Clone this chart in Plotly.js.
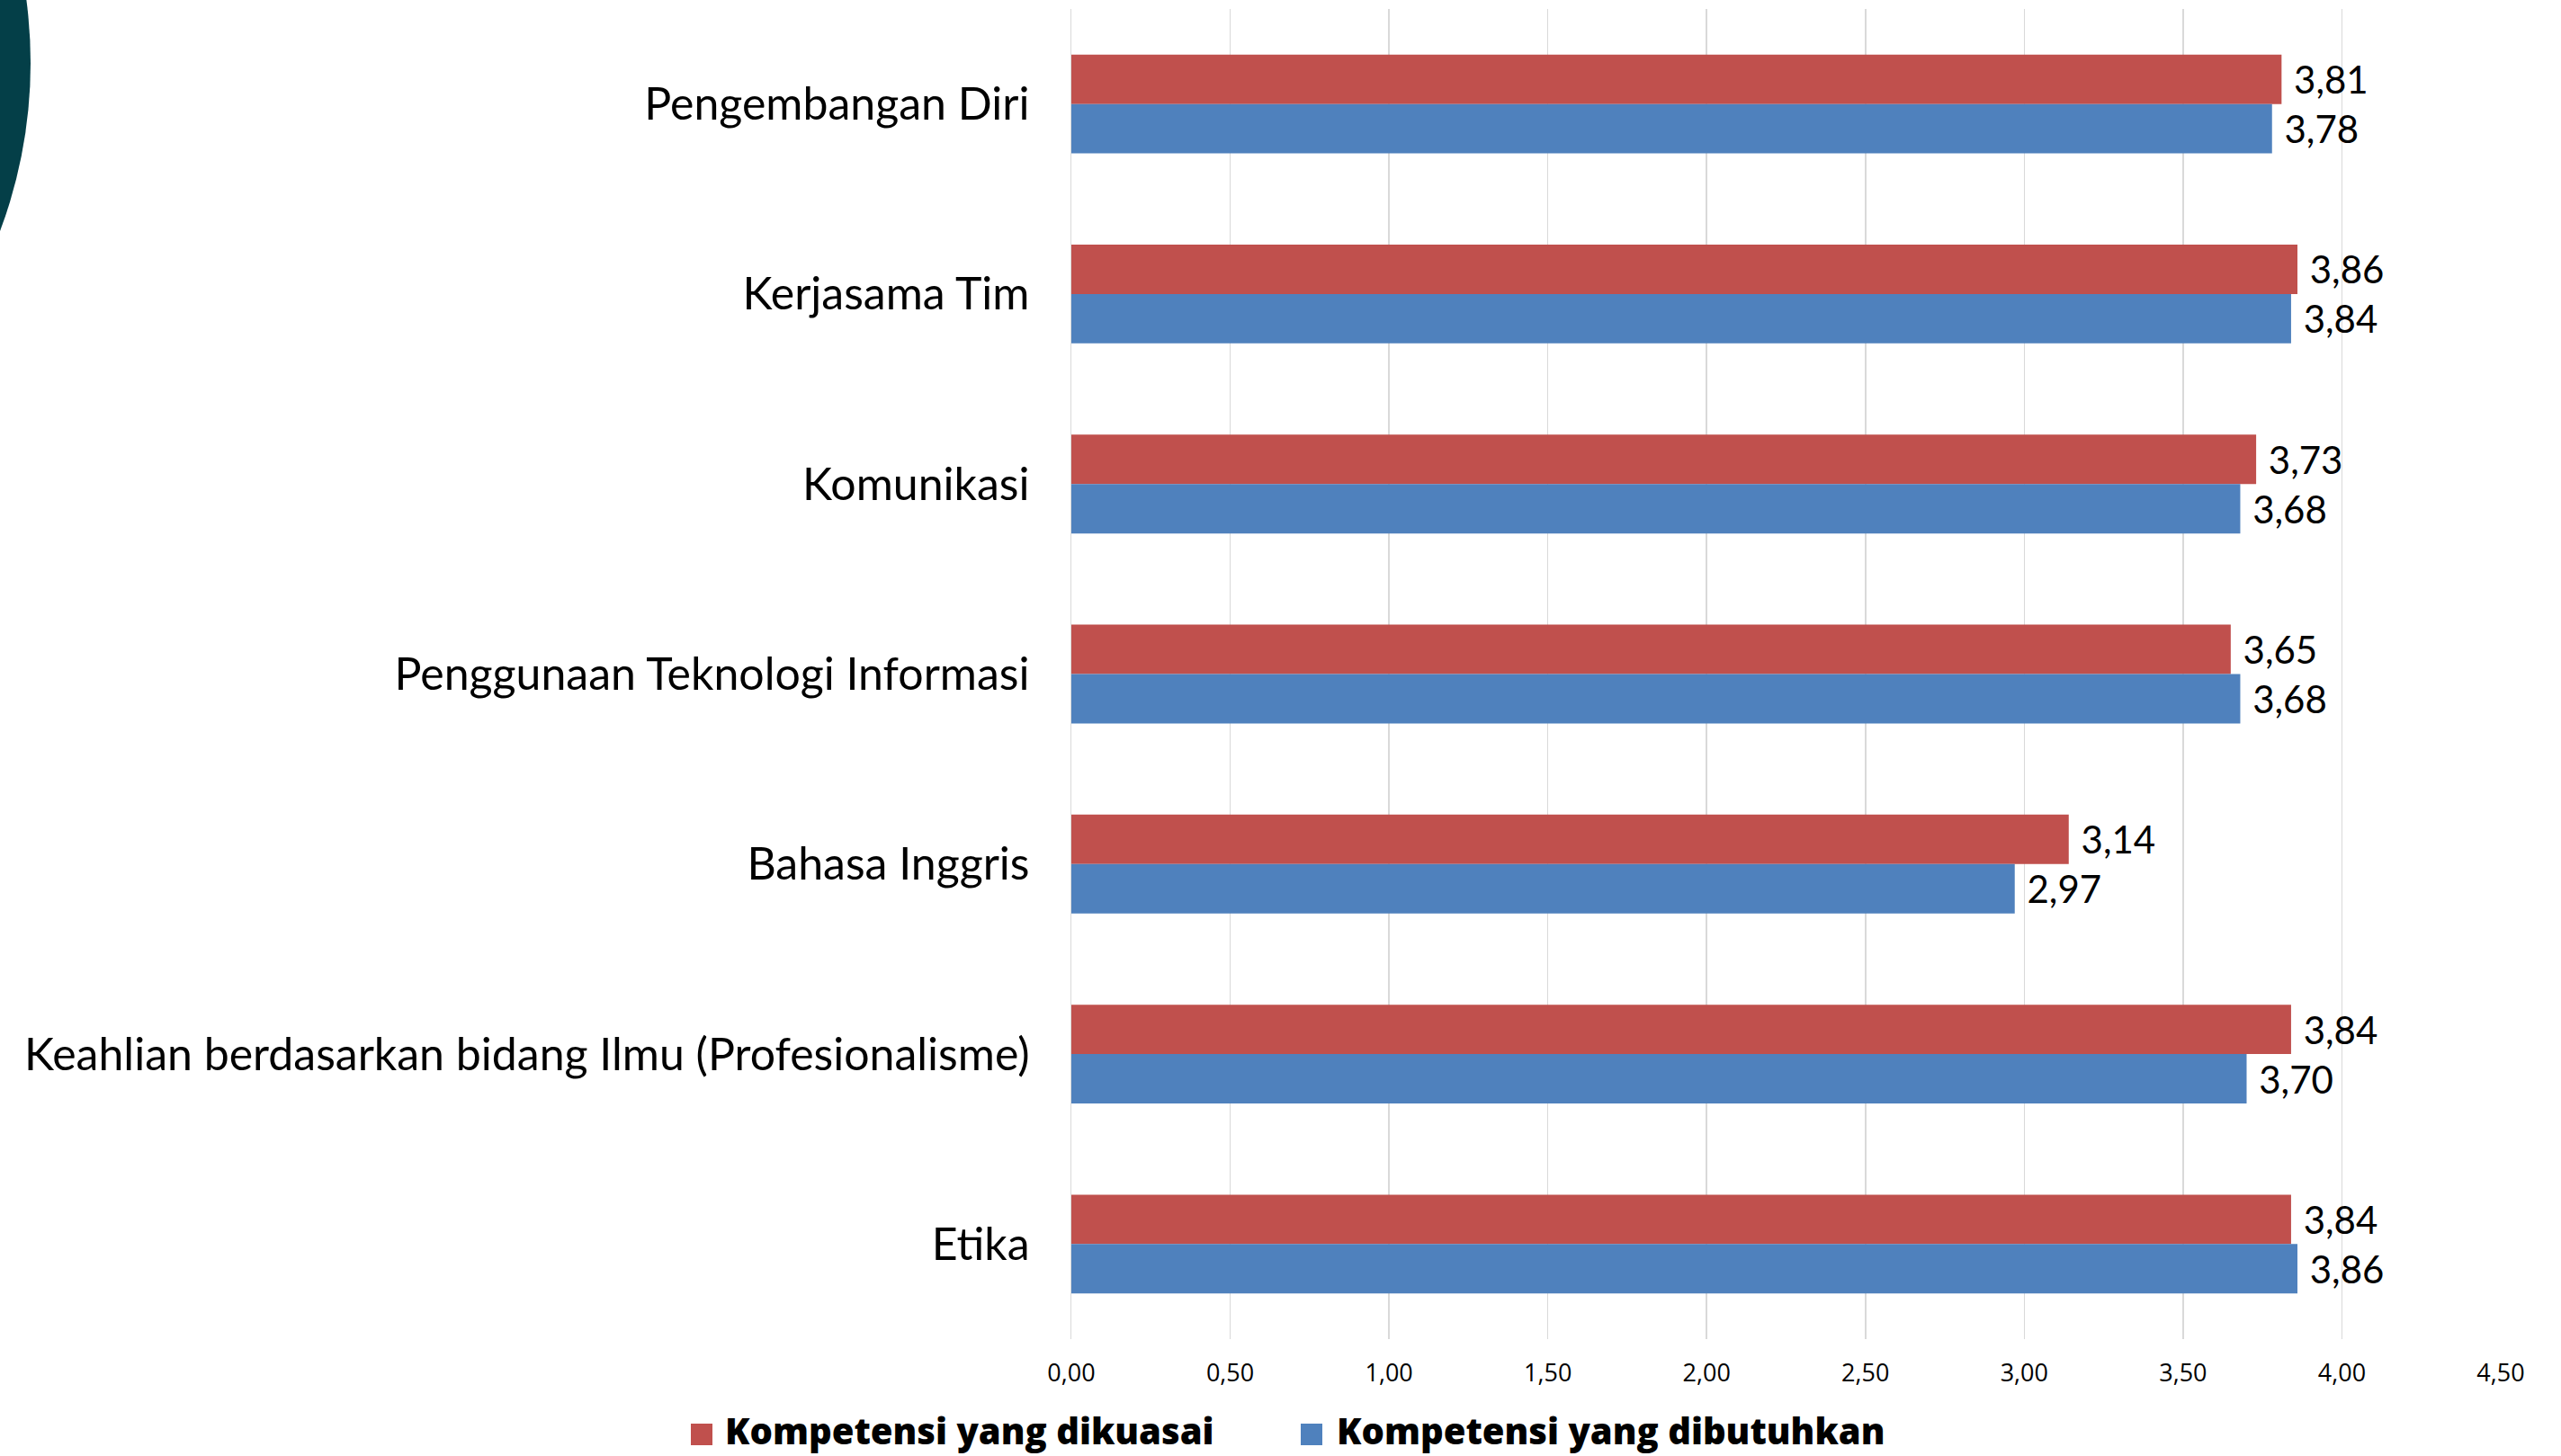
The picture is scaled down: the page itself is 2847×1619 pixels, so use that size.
<!DOCTYPE html>
<html>
<head>
<meta charset="utf-8">
<script src="https://cdn.plot.ly/plotly-3.0.1.min.js"></script>
<style>
html,body{margin:0;padding:0;background:#fff;overflow:hidden;}
#wrap{position:relative;width:2847px;height:1619px;overflow:hidden;}
#chart{position:absolute;left:0;top:0;width:2847px;height:1619px;}
#deco{position:absolute;left:-1028px;top:-461px;width:1062px;height:1062px;border-radius:50%;background:#043f48;pointer-events:none;}
</style>
</head>
<body>
<div id="wrap">
<div id="chart"></div>
<div id="deco"></div>
</div>
<script>
const categories = [
  "Pengembangan Diri",
  "Kerjasama Tim",
  "Komunikasi",
  "Penggunaan Teknologi Informasi",
  "Bahasa Inggris",
  "Keahlian berdasarkan bidang Ilmu (Profesionalisme)",
  "Etika"
];
const dikuasai = [3.81, 3.86, 3.73, 3.65, 3.14, 3.84, 3.84];
const dibutuhkan = [3.78, 3.84, 3.68, 3.68, 2.97, 3.70, 3.86];
const seriesNames = ["Kompetensi yang dikuasai", "Kompetensi yang dibutuhkan"];
const tickVals = [0, 0.5, 1, 1.5, 2, 2.5, 3, 3.5, 4, 4.5];
const tickText = ["0,00","0,50","1,00","1,50","2,00","2,50","3,00","3,50","4,00","4,50"];

const colors = ["#C0504D", "#4F81BD"];
const fmt = v => "\u00a0" + v.toFixed(2).replace(".", ",");
const labelFont = {family: "Lato, 'Open Sans', sans-serif", size: 42, color: "#000"};

function barTrace(vals, i) {
  return {
    type: "bar",
    orientation: "h",
    name: seriesNames[i],
    y: categories,
    x: vals,
    marker: {color: colors[i], line: {width: 0}},
    text: vals.map(fmt),
    textposition: "outside",
    textfont: labelFont,
    constraintext: "none",
    cliponaxis: false,
    hoverinfo: "skip",
    showlegend: false
  };
}

const W = 2847, H = 1619;
const m = {l: 1191, r: 67, t: 10, b: 130};
const pw = W - m.l - m.r, ph = H - m.t - m.b;
const px = x => (x - m.l) / pw;
const py = y => (H - m.b - y) / ph;

const legendFont = {family: "'Open Sans', Lato, sans-serif", size: 40, color: "#000", weight: 800};
const legendItems = [
  {sq: 768, tx: 804},
  {sq: 1446, tx: 1484}
];
const annotations = legendItems.map((it, i) => ({
  xref: "paper", yref: "paper",
  x: px(it.tx), y: py(1591),
  xanchor: "left", yanchor: "middle",
  text: seriesNames[i],
  showarrow: false,
  font: legendFont
}));
const shapes = legendItems.map((it, i) => ({
  type: "rect", xref: "paper", yref: "paper",
  x0: px(it.sq), x1: px(it.sq + 24),
  y0: py(1607), y1: py(1583),
  fillcolor: colors[i], line: {width: 0}
}));

const layout = {
  width: W, height: H,
  margin: m,
  paper_bgcolor: "rgba(0,0,0,0)",
  plot_bgcolor: "#fff",
  barmode: "group",
  bargap: 0.48,
  bargroupgap: 0,
  showlegend: false,
  xaxis: {
    range: [0, 4.5],
    tickvals: tickVals,
    ticktext: tickText,
    showgrid: true,
    gridcolor: "#D9D9D9",
    gridwidth: 1.5,
    zeroline: false,
    showline: false,
    ticks: "outside",
    ticklen: 14,
    tickcolor: "rgba(0,0,0,0)",
    tickfont: {family: "'Open Sans', sans-serif", size: 27, color: "#000"},
    fixedrange: true
  },
  yaxis: {
    autorange: "reversed",
    type: "category",
    showgrid: false,
    zeroline: false,
    showline: true,
    linecolor: "#D9D9D9",
    linewidth: 1.5,
    ticks: "outside",
    ticklen: 35,
    tickcolor: "rgba(0,0,0,0)",
    tickfont: {family: "Lato, 'Open Sans', sans-serif", size: 50, color: "#000"},
    fixedrange: true
  },
  annotations: annotations,
  shapes: shapes
};

Plotly.newPlot("chart", [barTrace(dikuasai, 0), barTrace(dibutuhkan, 1)], layout, {displayModeBar: false, staticPlot: true});
</script>
</body>
</html>
